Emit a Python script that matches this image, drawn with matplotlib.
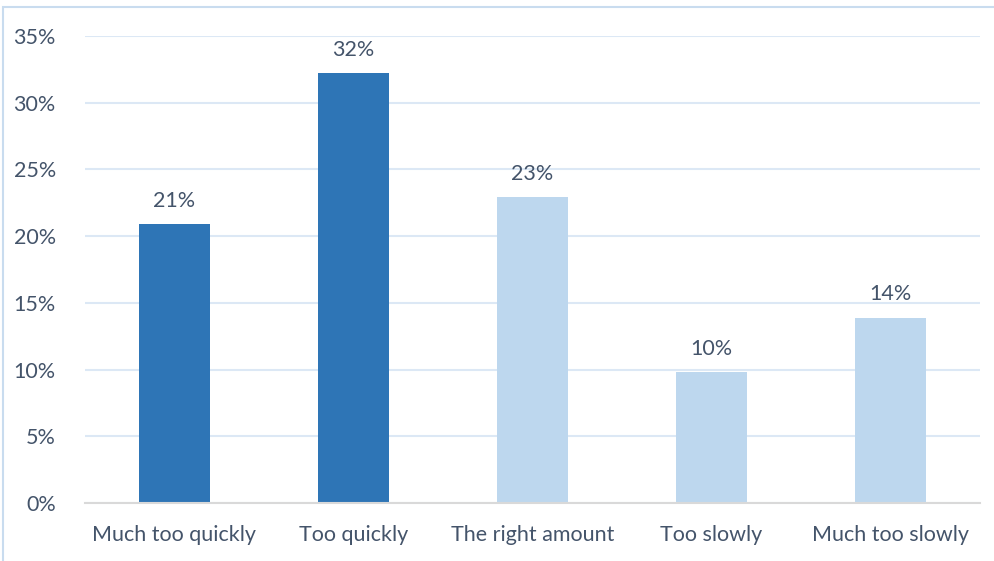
import matplotlib.pyplot as plt
from matplotlib.patches import Rectangle

categories = ["Much too quickly", "Too quickly", "The right amount", "Too slowly", "Much too slowly"]
shares = [20.9, 32.2, 22.9, 9.8, 13.9]   # percent of respondents
bar_colors = ["#2E75B6", "#2E75B6", "#BDD7EE", "#BDD7EE", "#BDD7EE"]
yticks = [0, 5, 10, 15, 20, 25, 30, 35]

text_col = "#44546A"
plt.rcParams['font.family'] = ['Lato', 'DejaVu Sans']

fig = plt.figure(figsize=(9.95, 5.61), dpi=100)
ax = fig.add_axes([85 / 995, 1 - 503 / 561, 895 / 995, 467 / 561])

# light blue frame around the chart area
fig.patches.append(Rectangle((3 / 995, -0.05), 1.0, 1 - 7 / 561 + 0.05,
                             transform=fig.transFigure, fill=False,
                             edgecolor="#C9DCEF", linewidth=1.5))

x = range(len(categories))
ax.bar(x, shares, width=0.40, color=bar_colors, zorder=3)
for i, v in enumerate(shares):
    ax.text(i, v + 1.0, f"{v:.0f}%", ha="center", va="bottom",
            fontsize=15.5, color=text_col)

ax.set_xlim(-0.5, 4.5)
ax.set_ylim(0, 35)
ax.set_yticks(yticks)
ax.set_yticklabels([f"{t}%" for t in yticks])
ax.set_xticks(list(x))
ax.set_xticklabels(categories)
ax.tick_params(axis="both", length=0, labelsize=15.5, colors=text_col)
ax.tick_params(axis="y", pad=21)
ax.tick_params(axis="x", pad=16)

ax.grid(axis="y", color="#DCE8F5", linewidth=1.5, zorder=0)
for s in ["top", "right", "left"]:
    ax.spines[s].set_visible(False)
ax.spines["bottom"].set_color("#D9D9D9")
ax.spines["bottom"].set_linewidth(1.5)
ax.spines["bottom"].set_zorder(4)

fig.savefig("out.png", dpi=100)
